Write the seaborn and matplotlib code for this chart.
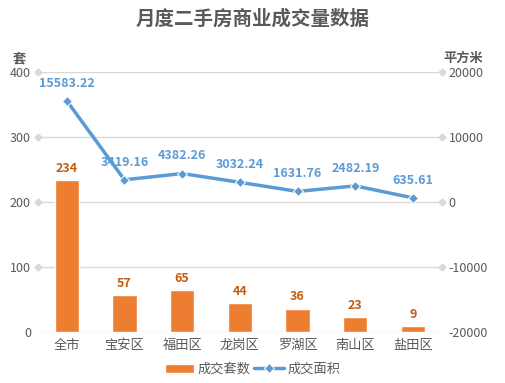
import matplotlib
matplotlib.use("Agg")
from matplotlib import pyplot as plt
import seaborn as sns
import pandas as pd

# data
districts = ["全市", "宝安区", "福田区", "龙岗区", "罗湖区", "南山区", "盐田区"]
units = [234, 57, 65, 44, 36, 23, 9]
area = [15583.22, 3419.16, 4382.26, 3032.24, 1631.76, 2482.19, 635.61]

orange = "#ED7D31"
blue = "#5B9BD5"
gray = "#595959"

sns.set_style("white")
plt.rcParams["font.family"] = ["Noto Sans CJK SC", "DejaVu Sans"]
plt.rcParams["axes.unicode_minus"] = False

df = pd.DataFrame({"district": districts, "units": units, "area": area})

fig = plt.figure(figsize=(5.05, 3.83), dpi=100)
ax = fig.add_axes([0.075, 0.133, 0.8, 0.679])
ax2 = ax.twinx()

sns.barplot(data=df, x="district", y="units", ax=ax, color=orange,
            width=0.42, saturation=1, label="成交套数", zorder=2)
sns.lineplot(x=list(range(len(districts))), y=area, ax=ax2, color=blue,
             linewidth=2.5, marker="D", markersize=5, label="成交面积",
             legend=False)

ax.set_ylim(0, 400)
ax.set_yticks(range(0, 401, 100))
ax2.set_ylim(-20000, 20000)
ax2.set_yticks(range(-20000, 20001, 10000))
ax.set_xlim(-0.5, len(districts) - 0.5)

# grid, diamond ends except on the baseline
for v in range(0, 401, 100):
    ax.axhline(v, color="#D9D9D9", linewidth=1, zorder=0)
    if v > 0:
        ax.plot([-0.5, len(districts) - 0.5], [v, v], linestyle="none",
                marker="D", markersize=3.5, color="#D9D9D9", clip_on=False,
                zorder=0)

for a in (ax, ax2):
    for s in a.spines.values():
        s.set_visible(False)
    a.tick_params(length=0, labelsize=9, colors=gray, pad=5)
ax.set_xlabel("")
ax.set_ylabel("")
ax2.set_ylabel("")
ax.tick_params(axis="x", labelsize=9.5, pad=5)

# value labels
for i, v in enumerate(units):
    ax.text(i, v + 8, str(v), ha="center", va="bottom", fontsize=9,
            fontweight="bold", color="#C55A11")
for i, v in enumerate(area):
    ax2.annotate(f"{v:.2f}", (i, v), xytext=(0, 8), textcoords="offset points",
                 ha="center", va="bottom", fontsize=9, fontweight="bold",
                 color=blue)

fig.text(0.5, 0.95, "月度二手房商业成交量数据", ha="center", va="center",
         fontsize=14, fontweight="bold", color=gray)
fig.text(0.038, 0.848, "套", ha="center", va="center", fontsize=9.5,
         fontweight="bold", color=gray)
fig.text(0.918, 0.848, "平方米", ha="center", va="center", fontsize=9.5,
         fontweight="bold", color=gray)

h1, l1 = ax.get_legend_handles_labels()
h2, l2 = ax2.get_legend_handles_labels()
if ax.get_legend():
    ax.get_legend().remove()
fig.legend(h1 + h2, l1 + l2, loc="center", bbox_to_anchor=(0.5, 0.035),
           ncol=2, frameon=False, fontsize=9.5, handlelength=2.2,
           columnspacing=0.3, handletextpad=0.3, labelcolor=gray)

fig.savefig("out.png", dpi=100)
